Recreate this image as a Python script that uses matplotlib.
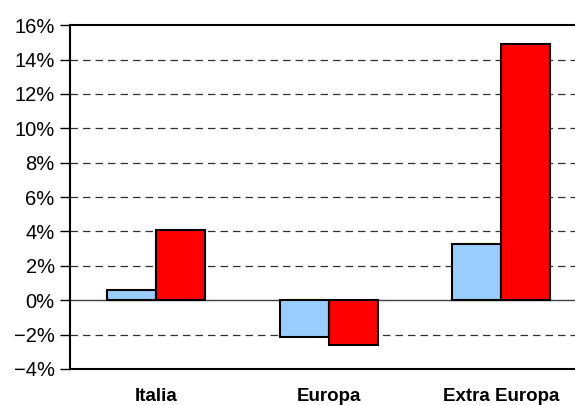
import matplotlib.pyplot as plt
import numpy as np
from matplotlib.ticker import PercentFormatter

# Data
categories = ['Italia', 'Europa', 'Extra Europa']
serie_1 = [0.6, -2.15, 3.25]
serie_2 = [4.1, -2.6, 14.9]

plt.rcParams['font.family'] = ['Liberation Sans', 'DejaVu Sans']

fig = plt.figure(figsize=(5.75, 4.05), dpi=100)
ax = fig.add_axes([0.1217, 0.0889, 0.900, 0.849])

x = np.arange(len(categories))
w = 0.285
ax.bar(x - w / 2, serie_1, w, color='#99CCFF', edgecolor='black', linewidth=1.5, zorder=3)
ax.bar(x + w / 2, serie_2, w, color='#FF0000', edgecolor='black', linewidth=1.5, zorder=3)

ax.set_xlim(-0.5, 2.5)
ax.set_ylim(-4, 16)
ax.set_yticks(range(-4, 17, 2))
ax.yaxis.set_major_formatter(PercentFormatter(decimals=0))

# dashed gridlines, solid line at zero
for v in range(-2, 16, 2):
    if v == 0:
        ax.axhline(0, color='#404040', linewidth=1, zorder=2)
    else:
        ax.axhline(v, color='#303030', linewidth=0.9, dashes=(6, 4), zorder=1)

ax.set_xticks(x)
ax.set_xticklabels(categories, fontweight='bold', fontsize=13.5)
ax.tick_params(axis='x', length=0, pad=14)
ax.tick_params(axis='y', labelsize=14.5, length=7, direction='out', width=1, pad=4)

for s in ['left', 'bottom', 'top']:
    ax.spines[s].set_linewidth(1.5)
ax.spines['right'].set_visible(False)

fig.savefig('out.png', dpi=100)
